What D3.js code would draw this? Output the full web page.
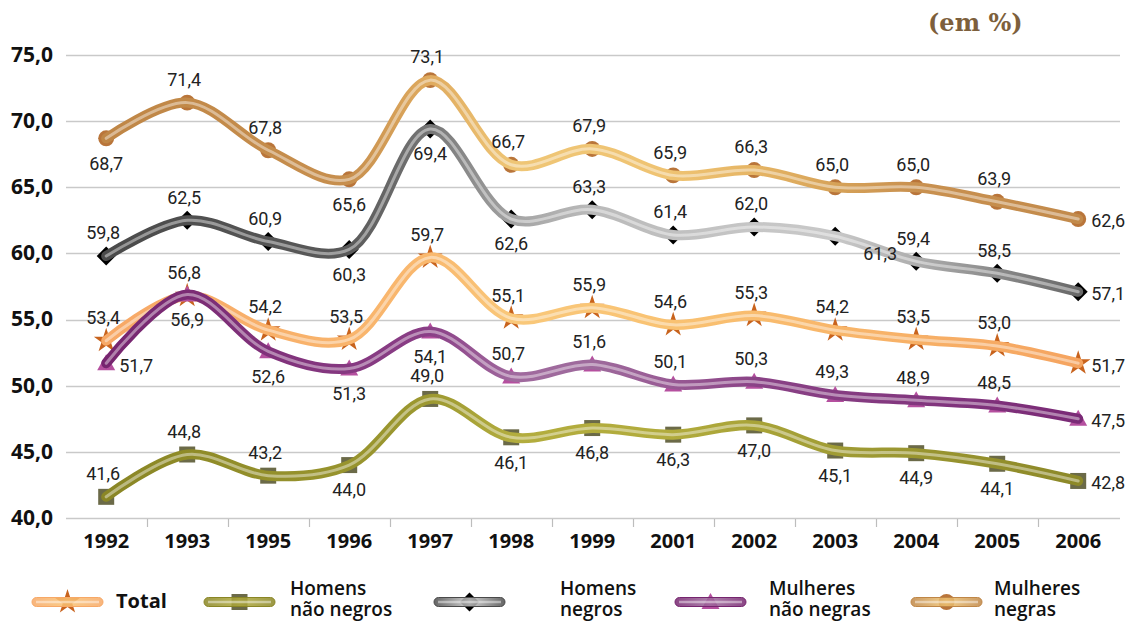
<!DOCTYPE html>
<html>
<head>
<meta charset="utf-8">
<script src="https://cdn.jsdelivr.net/npm/d3@7"></script>
<style>
  html, body { margin: 0; padding: 0; background: #fff; }
  svg { display: block; }
</style>
</head>
<body>
<svg id="chart" width="1128" height="623"></svg>
<script>
// Taxa de desemprego (em %) por sexo e raça/cor
const years = ["1992", "1993", "1995", "1996", "1997", "1998", "1999", "2001", "2002", "2003", "2004", "2005", "2006"];
const yTicks = [40, 45, 50, 55, 60, 65, 70, 75];

const total              = [53.4, 56.8, 54.2, 53.5, 59.7, 55.1, 55.9, 54.6, 55.3, 54.2, 53.5, 53.0, 51.7];
const homensNaoNegros    = [41.6, 44.8, 43.2, 44.0, 49.0, 46.1, 46.8, 46.3, 47.0, 45.1, 44.9, 44.1, 42.8];
const homensNegros       = [59.8, 62.5, 60.9, 60.3, 69.4, 62.6, 63.3, 61.4, 62.0, 61.3, 59.4, 58.5, 57.1];
const mulheresNaoNegras  = [51.7, 56.9, 52.6, 51.3, 54.1, 50.7, 51.6, 50.1, 50.3, 49.3, 48.9, 48.5, 47.5];
const mulheresNegras     = [68.7, 71.4, 67.8, 65.6, 73.1, 66.7, 67.9, 65.9, 66.3, 65.0, 65.0, 63.9, 62.6];

// label placement per point: t = above, b = below, r = right, rb = right-below
const placeTotal = ["t","t","t","t","t","t","t","t","t","t","t","t","r"];
const placeHNN   = ["t","t","t","b","t","b","b","b","b","b","b","b","r"];
const placeHN    = ["t","t","t","b","b","b","t","t","t","rb","t","t","r"];
const placeMNN   = ["r","b","b","b","b","t","t","t","t","t","t","t","r"];
const placeMN    = ["b","t","t","b","t","t","t","t","t","t","t","t","r"];

const series = [
  { id: "mn", label: ["Mulheres", "negras"], values: mulheresNegras, place: placeMN, marker: "circle", markerColor: "#b9753a",
    stops: [[0,"#bf8646"],[0.25,"#c78f4e"],[0.33,"#dfaa5e"],[0.42,"#efc676"],[0.58,"#efc372"],[0.67,"#e5b464"],[0.75,"#d6a258"],[0.83,"#c99150"],[1,"#c28a4b"]],
    legendX: 911, textX: 994 },
  { id: "hn", label: ["Homens", "negros"], values: homensNegros, place: placeHN, marker: "diamond", markerColor: "#000000",
    stops: [[0,"#4a4a4a"],[0.25,"#5a5a5a"],[0.33,"#747474"],[0.42,"#a4a4a4"],[0.5,"#bababa"],[0.67,"#c6c6c6"],[0.75,"#c8c8c8"],[0.83,"#afafaf"],[0.92,"#888888"],[1,"#686868"]],
    legendX: 434, textX: 560 },
  { id: "t", label: ["Total"], values: total, place: placeTotal, marker: "star", markerColor: "#c8631d",
    stops: [[0,"#f7a866"],[0.33,"#f9b86e"],[0.42,"#f9c87a"],[0.58,"#f9c272"],[0.75,"#f8b66a"],[1,"#f5a460"]],
    legendX: 32, textX: 116 },
  { id: "mnn", label: ["Mulheres", "não negras"], values: mulheresNaoNegras, place: placeMNN, marker: "triangle", markerColor: "#b5509f",
    stops: [[0,"#76256f"],[0.33,"#8a3e86"],[0.42,"#a06a9e"],[0.5,"#9e6a9c"],[0.58,"#985a94"],[0.67,"#8a4286"],[1,"#7a2a76"]],
    legendX: 675, textX: 769 },
  { id: "hnn", label: ["Homens", "não negros"], values: homensNaoNegros, place: placeHNN, marker: "square", markerColor: "#6b6a48",
    stops: [[0,"#8a8625"],[0.33,"#9c9830"],[0.42,"#b3ad3e"],[0.58,"#b1ab3c"],[0.75,"#a09c34"],[1,"#8c8828"]],
    legendX: 204, textX: 290 }
];

const svg = d3.select("#chart");
const plotLeft = 65.7, plotRight = 1118.7, plotTop = 55, plotBottom = 518;

const x = d3.scaleBand().domain(years).range([plotLeft, plotRight]).padding(0);
const cx = d => x(d) + x.bandwidth() / 2;
const y = d3.scaleLinear().domain([40, 75]).range([plotBottom, plotTop]);

const locale = d3.formatLocale({ decimal: ",", thousands: ".", grouping: [3], currency: ["R$", ""] });
const f1 = locale.format(".1f");

// gridlines
svg.append("g").selectAll("line").data(yTicks).join("line")
  .attr("x1", 66).attr("x2", 1120)
  .attr("y1", d => Math.round(y(d)) + 0.5).attr("y2", d => Math.round(y(d)) + 0.5)
  .attr("stroke", "#c9c9c9").attr("stroke-width", 1.3);

// y axis labels
const yAxis = d3.axisLeft(y).tickValues(yTicks).tickFormat(f1).tickSize(0).tickPadding(13);
const gy = svg.append("g").attr("transform", "translate(66,0)").call(yAxis);
gy.select(".domain").remove();
gy.selectAll("text")
  .attr("font-family", "'Open Sans', 'Liberation Sans', sans-serif")
  .attr("font-weight", 700).attr("font-size", 21).attr("fill", "#111")
  .attr("dy", "0.3em");

// x axis labels and boundary ticks
const xAxis = d3.axisBottom(x).tickSize(0).tickPadding(14);
const gx = svg.append("g").attr("transform", `translate(0,${plotBottom})`).call(xAxis);
gx.select(".domain").remove();
gx.selectAll("text")
  .attr("font-family", "'Open Sans', 'Liberation Sans', sans-serif")
  .attr("font-weight", 700).attr("font-size", 20).attr("fill", "#111")
  .attr("dy", "0.78em");
svg.append("g").selectAll("line").data(years.slice(1)).join("line")
  .attr("x1", d => Math.round(x(d)) + 0.5).attr("x2", d => Math.round(x(d)) + 0.5)
  .attr("y1", plotBottom + 1).attr("y2", plotBottom + 9)
  .attr("stroke", "#bdbdbd").attr("stroke-width", 1.2);

// unit note
svg.append("text").attr("x", 928).attr("y", 31)
  .attr("font-family", "'DejaVu Serif', 'Liberation Serif', serif")
  .attr("font-weight", 700).attr("font-size", 24).attr("fill", "#7d5f3c")
  .text("(em %)");

// gradients along x
const defs = svg.append("defs");
series.forEach(s => {
  const g = defs.append("linearGradient").attr("id", "grad-" + s.id)
    .attr("gradientUnits", "userSpaceOnUse")
    .attr("x1", cx(years[0])).attr("x2", cx(years[years.length - 1]))
    .attr("y1", 0).attr("y2", 0);
  s.stops.forEach(st => g.append("stop").attr("offset", st[0]).attr("stop-color", st[1]));
});

// marker shapes
function markerPath(type) {
  switch (type) {
    case "circle": return d3.symbol(d3.symbolCircle, 200)();
    case "square": return "M-8,-8H8V8H-8Z";
    case "diamond": return "M0,-9.5L9.5,0L0,9.5L-9.5,0Z";
    case "triangle": return "M0,-9L9,7H-9Z";
    case "star": return d3.symbol(d3.symbolStar, 190)();
  }
}

const line = d3.line()
  .x((d, i) => cx(years[i]))
  .y(d => y(d))
  .curve(d3.curveCatmullRom.alpha(0.5));

const plot = svg.append("g");
series.forEach(s => {
  const g = plot.append("g");
  // markers sit beneath the tube
  g.selectAll("path.m").data(s.values).join("path").attr("class", "m")
    .attr("d", markerPath(s.marker))
    .attr("transform", (d, i) => `translate(${cx(years[i])},${y(d)})`)
    .attr("fill", s.markerColor);
  g.append("path").datum(s.values).attr("d", line)
    .attr("fill", "none").attr("stroke", `url(#grad-${s.id})`)
    .attr("stroke-width", 10).attr("stroke-linecap", "round").attr("stroke-linejoin", "round");
  g.append("path").datum(s.values).attr("d", line)
    .attr("fill", "none").attr("stroke", "#ffffff").attr("stroke-opacity", 0.42)
    .attr("stroke-width", 3).attr("stroke-linecap", "round").attr("stroke-linejoin", "round");
});

// value labels
const labels = svg.append("g")
  .attr("font-family", "Roboto, 'Liberation Sans', sans-serif")
  .attr("font-size", 18).attr("fill", "#222");
series.forEach(s => {
  s.values.forEach((v, i) => {
    const px = cx(years[i]), py = y(v), p = s.place[i];
    const t = labels.append("text").text(f1(v));
    if (p === "t") t.attr("x", px - 3).attr("y", py - 23).attr("text-anchor", "middle").attr("dy", "0.35em");
    else if (p === "b") t.attr("x", px).attr("y", py + 25).attr("text-anchor", "middle").attr("dy", "0.35em");
    else if (p === "r") t.attr("x", px + 13).attr("y", py + 2).attr("text-anchor", "start").attr("dy", "0.35em");
    else if (p === "rb") t.attr("x", px + 28).attr("y", py + 17).attr("text-anchor", "start").attr("dy", "0.35em");
  });
});

// legend
const legend = svg.append("g");
const legendY = 602;
series.forEach(s => {
  const g = legend.append("g");
  const x0 = s.legendX, w = 71;
  const gl = defs.append("linearGradient").attr("id", "lg-" + s.id)
    .attr("x1", 0).attr("x2", 1).attr("y1", 0).attr("y2", 0);
  gl.append("stop").attr("offset", 0).attr("stop-color", s.stops[0][1]);
  gl.append("stop").attr("offset", 0.5).attr("stop-color", s.stops[Math.floor(s.stops.length / 2)][1]);
  gl.append("stop").attr("offset", 1).attr("stop-color", s.stops[0][1]);
  g.append("path").attr("d", markerPath(s.marker))
    .attr("transform", `translate(${x0 + w / 2},${legendY})`)
    .attr("fill", s.markerColor);
  g.append("rect").attr("x", x0).attr("y", legendY - 4.5).attr("width", w).attr("height", 9).attr("rx", 4.5)
    .attr("fill", `url(#lg-${s.id})`).attr("fill-opacity", 0.85)
    .attr("stroke", s.stops[0][1]).attr("stroke-width", 1);
  g.append("line").attr("x1", x0 + 4).attr("x2", x0 + w - 4).attr("y1", legendY).attr("y2", legendY)
    .attr("stroke", "#fff").attr("stroke-opacity", 0.45).attr("stroke-width", 2.5);
  const lines = s.label.length === 1 ? [[s.label[0], 608]] : [[s.label[0], 595], [s.label[1], 616]];
  lines.forEach(([txt, ty]) => {
    g.append("text").attr("x", s.textX).attr("y", ty)
      .attr("font-family", "'Open Sans', 'Noto Sans', sans-serif")
      .attr("font-size", s.label.length === 1 ? 20 : 19)
      .attr("font-weight", s.label.length === 1 ? 700 : 600)
      .attr("fill", "#111")
      .text(txt);
  });
});
</script>
</body>
</html>
